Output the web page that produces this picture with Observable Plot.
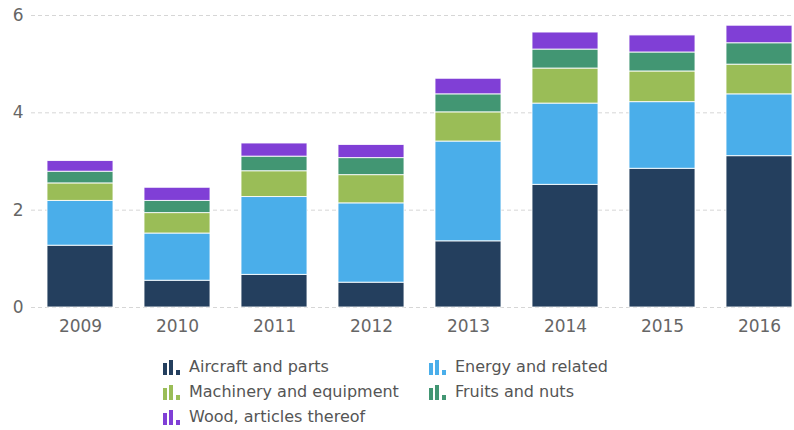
<!DOCTYPE html>
<html>
<head>
<meta charset="utf-8">
<script src="https://cdn.jsdelivr.net/npm/d3@7"></script>
<script src="https://cdn.jsdelivr.net/npm/@observablehq/plot@0.6"></script>
<style>
  body { margin: 0; background: #fff; font-family: "DejaVu Sans", sans-serif; }
  #chart { width: 794px; }
  .legend { display: grid; grid-template-columns: 266px 266px; margin-left: 163px; margin-top: 9px; }
  .item { display: flex; align-items: center; height: 25px; font-size: 16px; color: #555; white-space: nowrap; }
  .item svg { margin-right: 8px; flex: none; }
</style>
</head>
<body>
<div id="chart"></div>
<script>
const years = ["2009", "2010", "2011", "2012", "2013", "2014", "2015", "2016"];
const seriesNames = ["Aircraft and parts", "Energy and related", "Machinery and equipment", "Fruits and nuts", "Wood, articles thereof"];
const seriesColors = ["#243f5e", "#4aaeea", "#9abd57", "#429673", "#803fd6"];
const aircraft  = [1.27, 0.55, 0.67, 0.51, 1.36, 2.52, 2.85, 3.11];
const energy    = [0.92, 0.97, 1.60, 1.63, 2.05, 1.67, 1.37, 1.27];
const machinery = [0.36, 0.42, 0.53, 0.58, 0.60, 0.72, 0.63, 0.61];
const fruits    = [0.24, 0.25, 0.30, 0.35, 0.37, 0.39, 0.39, 0.44];
const wood      = [0.22, 0.27, 0.27, 0.27, 0.32, 0.35, 0.35, 0.36];
const yTicks = [0, 2, 4, 6];

const seriesValues = [aircraft, energy, machinery, fruits, wood];
const data = [];
seriesNames.forEach((name, s) => {
  years.forEach((yr, i) => data.push({year: yr, series: name, value: seriesValues[s][i]}));
});

const chart = Plot.plot({
  width: 794,
  height: 345,
  marginTop: 15,
  marginBottom: 38,
  marginLeft: 44,
  marginRight: 0,
  style: {fontFamily: "DejaVu Sans, sans-serif", fontSize: "17px", color: "#666", background: "#fff"},
  x: {domain: years, paddingInner: 0.32, paddingOuter: 0.02, label: null},
  y: {domain: [0, 6], label: null},
  color: {domain: seriesNames, range: seriesColors},
  marks: [
    Plot.ruleY(yTicks, {stroke: "#d6d6d6", strokeDasharray: "4,3", insetLeft: -13}),
    Plot.barY(data, Plot.stackY({x: "year", y: "value", fill: "series", z: "series", order: seriesNames, stroke: "#ffffff", strokeWidth: 1, strokeOpacity: 0.85})),
    Plot.axisX({tickSize: 0, tickPadding: 12, fill: "#666", fontSize: 17, label: null}),
    Plot.axisY({ticks: yTicks, tickSize: 0, tickPadding: 21, fill: "#666", fontSize: 17, label: null, tickFormat: d => String(d)})
  ]
});
document.getElementById("chart").appendChild(chart);

const legend = document.createElement("div");
legend.className = "legend";
seriesNames.forEach((name, i) => {
  const item = document.createElement("div");
  item.className = "item";
  const c = seriesColors[i];
  item.innerHTML = `<svg width="18" height="16" viewBox="0 0 18 16">
    <rect x="0" y="4" width="4" height="12" fill="${c}"/>
    <rect x="6" y="1" width="4" height="15" fill="${c}"/>
    <rect x="13" y="11" width="4" height="5" fill="${c}"/>
  </svg><span>${name}</span>`;
  legend.appendChild(item);
});
document.getElementById("chart").appendChild(legend);
</script>
</body>
</html>
